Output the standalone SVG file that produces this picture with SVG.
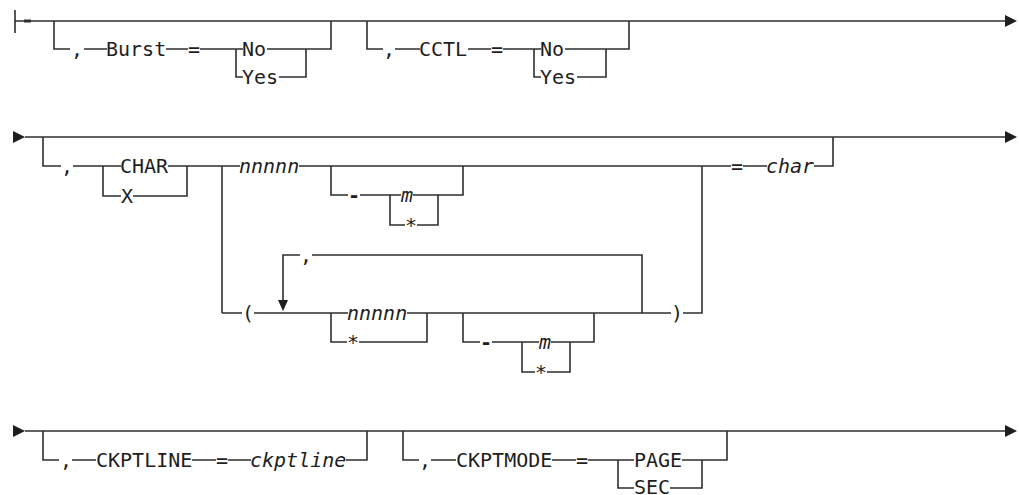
<svg xmlns="http://www.w3.org/2000/svg" width="1019" height="495" viewBox="0 0 1019 495">
<style>
.l{fill:none;stroke:#2e2e2e;stroke-width:1.6}
.t{font-family:"DejaVu Sans Mono","Liberation Mono",monospace;font-size:20px;fill:#1e1e1e}
.i{font-style:italic}
.m{text-anchor:middle}
.b{font-weight:bold}
.a{fill:#1e1e1e}
</style>
<rect width="1019" height="495" fill="#fff"/>
<g id="connectors">
<path class="l" d="M15,10V33M15,21H1006"/>
<rect x="24" y="19.5" width="7" height="3" fill="#2e2e2e"/>
<polygon class="a" points="1005,15 1017,21 1005,27"/>
<path class="l" d="M54,21V49H70M84,49H107M166,49H188M200,49H243M267,49H331V21M236,49V77H243M279,77H306V49"/>
<path class="l" d="M367,21V49H383M395,49H420M468,49H491M503,49H541M565,49H629V21M534,49V77H541M577,77H606V49"/>
<polygon class="a" points="13,131 25,137 13,143"/>
<path class="l" d="M25,137H1006"/>
<polygon class="a" points="1005,131 1017,137 1005,143"/>
<path class="l" d="M43,137V166H61M73,166H121M168,166H240M103,166V196H121M133,196H187V166M222,166V313"/>
<path class="l" d="M299,166H731M743,166H767M814,166H833V137"/>
<path class="l" d="M331,166V195H348M360,195H401M413,195H463V166M390,195V225H405M417,225H438V195"/>
<path class="l" d="M222,313H242M254,313H348M407,313H671M683,313H702V166"/>
<path class="l" d="M331,313V342H347M359,342H427V313"/>
<path class="l" d="M463,313V342H480M492,342H539M551,342H594V313M522,342V372H535M547,372H570V342"/>
<path class="l" d="M642,313V255H312M300,255H283V301"/>
<polygon class="a" points="278,300 288,300 283,311"/>
<polygon class="a" points="13,425 25,431 13,437"/>
<path class="l" d="M25,431H1006"/>
<polygon class="a" points="1005,425 1017,431 1005,437"/>
<path class="l" d="M43,431V460H59M72,460H96M192,460H216M228,460H251M346,460H367V431"/>
<path class="l" d="M403,431V460H419M431,460H456M552,460H576M588,460H634M682,460H727V431M618,460V488H634M670,488H702V460"/>
</g>
<g id="burst">
<text class="t m" x="77" y="56">,</text>
<text class="t" x="106" y="56">Burst</text>
<text class="t m" x="194" y="56">=</text>
<text class="t" x="242" y="56">No</text>
<text class="t" x="242" y="84">Yes</text>
</g>
<g id="cctl">
<text class="t m" x="389" y="56">,</text>
<text class="t" x="419" y="56">CCTL</text>
<text class="t m" x="497" y="56">=</text>
<text class="t" x="540" y="56">No</text>
<text class="t" x="540" y="84">Yes</text>
</g>
<g id="char">
<text class="t m" x="67" y="173">,</text>
<text class="t" x="120" y="173">CHAR</text>
<text class="t" x="121" y="203">X</text>
<text class="t i" x="239" y="173">nnnnn</text>
<text class="t m b" x="354" y="202">-</text>
<text class="t i m" x="407" y="202">m</text>
<text class="t m" x="411" y="232">*</text>
<text class="t m" x="248" y="320">(</text>
<text class="t m" x="306" y="262">,</text>
<text class="t i" x="347" y="320">nnnnn</text>
<text class="t m" x="353" y="349">*</text>
<text class="t m b" x="486" y="349">-</text>
<text class="t i m" x="545" y="349">m</text>
<text class="t m" x="541" y="379">*</text>
<text class="t m" x="677" y="320">)</text>
<text class="t m" x="737" y="173">=</text>
<text class="t i" x="766" y="173">char</text>
</g>
<g id="ckptline">
<text class="t m" x="66" y="467">,</text>
<text class="t" x="96" y="467">CKPTLINE</text>
<text class="t m" x="222" y="467">=</text>
<text class="t i" x="250" y="467">ckptline</text>
</g>
<g id="ckptmode">
<text class="t m" x="425" y="467">,</text>
<text class="t" x="456" y="467">CKPTMODE</text>
<text class="t m" x="582" y="467">=</text>
<text class="t" x="634" y="467">PAGE</text>
<text class="t" x="634" y="494">SEC</text>
</g>
</svg>
